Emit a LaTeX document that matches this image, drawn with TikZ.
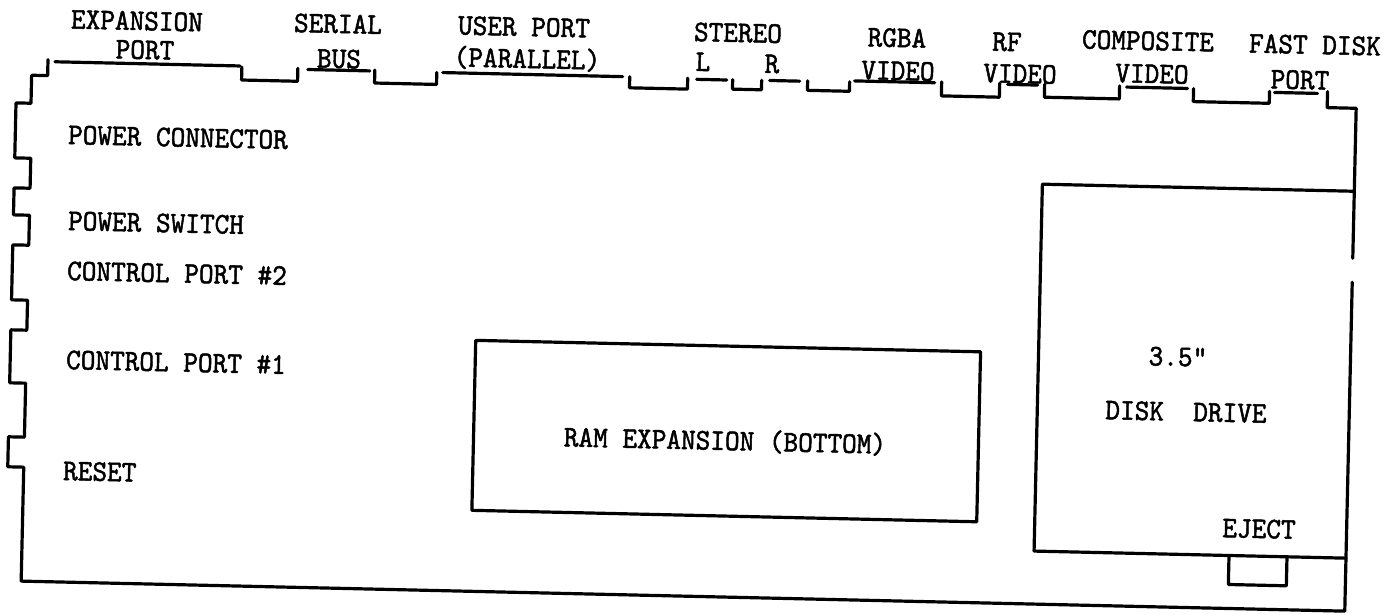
\documentclass[tikz,border=0pt]{standalone}
\usepackage{fontspec}
\newfontfamily\tw[FakeStretch=0.93,FakeBold=1.6]{lmmono10-regular.otf}
\begin{document}
\begin{tikzpicture}[x=1pt,y=-1pt,
  edge/.style={line width=3.2pt, line cap=round, line join=round},
  lbl/.style={font=\tw\fontsize{30}{31}\selectfont, inner sep=0pt, text height=18pt, text depth=0pt, rotate=-1.3}]
\useasboundingbox (0,0) rectangle (1397,615);
\begin{scope}[rotate around={-1.3:(680,330)}]
  % outer outline
  \draw[edge] (42,74) -- (42,90) -- (26,90) -- (26,118) -- (11,118) -- (11,173)
    -- (27,173) -- (27,203) -- (11,203) -- (11,230) -- (27,230) -- (27,260)
    -- (11,260) -- (11,315) -- (27,315) -- (27,345) -- (11,345) -- (11,398)
    -- (27,398) -- (27,452) -- (11,452) -- (11,482) -- (27,482) -- (27,596)
    -- (1351,596) -- (1351,267);
  \draw[edge] (1351,243) -- (1351,93) -- (1322,93) -- (1322,77);
  % port lines
  \draw[edge] (49,76) -- (234,76);
  \draw[edge] (302,78) -- (364,78);
  \draw[edge] (437,78) -- (617,78);
  \draw[edge] (691,79) -- (721,79);
  \draw[edge] (764,78.5) -- (794,78.5);
  \draw[edge] (849,77) -- (929,77);
  \draw[edge] (1002,77) -- (1032,77);
  \draw[edge] (1121,77) -- (1182,77);
  \draw[edge] (1269,79) -- (1312,79);
  % notches
  \draw[edge] (236,77) -- (236,90) -- (292,90) -- (292,77);
  \draw[edge] (369,77) -- (369,90) -- (431,90) -- (431,78);
  \draw[edge] (624,78) -- (624,89) -- (682,89) -- (682,78);
  \draw[edge] (727,78.5) -- (727,88) -- (756,88) -- (756,78.5);
  \draw[edge] (802,78) -- (802,87.5) -- (844,87.5) -- (844,78);
  \draw[edge] (936,76) -- (936,90) -- (994,90) -- (994,76);
  \draw[edge] (1039,76) -- (1039,89) -- (1114,89) -- (1114,76);
  \draw[edge] (1188,77) -- (1188,90) -- (1264,90) -- (1264,78);
  % disk drive
  \draw[edge] (1351,176) -- (1039,176) -- (1039,543) -- (1351,543);
  \draw[edge] (1234,543) -- (1234,572) -- (1292,572) -- (1292,543);
  % RAM expansion box
  \draw[edge] (476,345) rectangle (981,515);
\end{scope}
% top labels
\node[lbl] (exp1) at (137,21) {EXPANSION};
\node[lbl] (exp2) at (145,50) {PORT};
\node[lbl] (ser1) at (338,24) {SERIAL};
\node[lbl] (ser2) at (339,59) {BUS};
\node[lbl] (usr1) at (524,27) {USER PORT};
\node[lbl] (usr2) at (527,59) {(PARALLEL)};
\node[lbl] (ste) at (738,33) {STEREO};
\node[lbl] (stL) at (703,62) {L};
\node[lbl] (stR) at (772,64) {R};
\node[lbl] (rgb1) at (897,38) {RGBA};
\node[lbl] (rgb2) at (898,71) {VIDEO};
\node[lbl] (rf1) at (1007,42) {RF};
\node[lbl] (rf2) at (1020,74) {VIDEO};
\node[lbl] (cmp1) at (1148,41) {COMPOSITE};
\node[lbl] (cmp2) at (1152,74) {VIDEO};
\node[lbl] (fd1) at (1315,45) {FAST DISK};
\node[lbl] (fd2) at (1300,80) {PORT};
% left labels
\node[lbl,anchor=west] (pc) at (68,135) {POWER CONNECTOR};
\node[lbl,anchor=west] (ps) at (68,221) {POWER SWITCH};
\node[lbl,anchor=west] (cp2) at (67,271) {CONTROL PORT \#2};
\node[lbl,anchor=west] (cp1) at (66,360) {CONTROL PORT \#1};
\node[lbl,anchor=west] (rst) at (63,471) {RESET};
% inner labels
\node[lbl] (ram) at (725,441) {RAM EXPANSION (BOTTOM)};
\node[lbl] (d35) at (1178,357) {3.5"};
\node[lbl] (dd) at (1186,412) {DISK\ \ DRIVE};
\node[lbl] (ej) at (1259,529) {EJECT};
\end{tikzpicture}
\end{document}
